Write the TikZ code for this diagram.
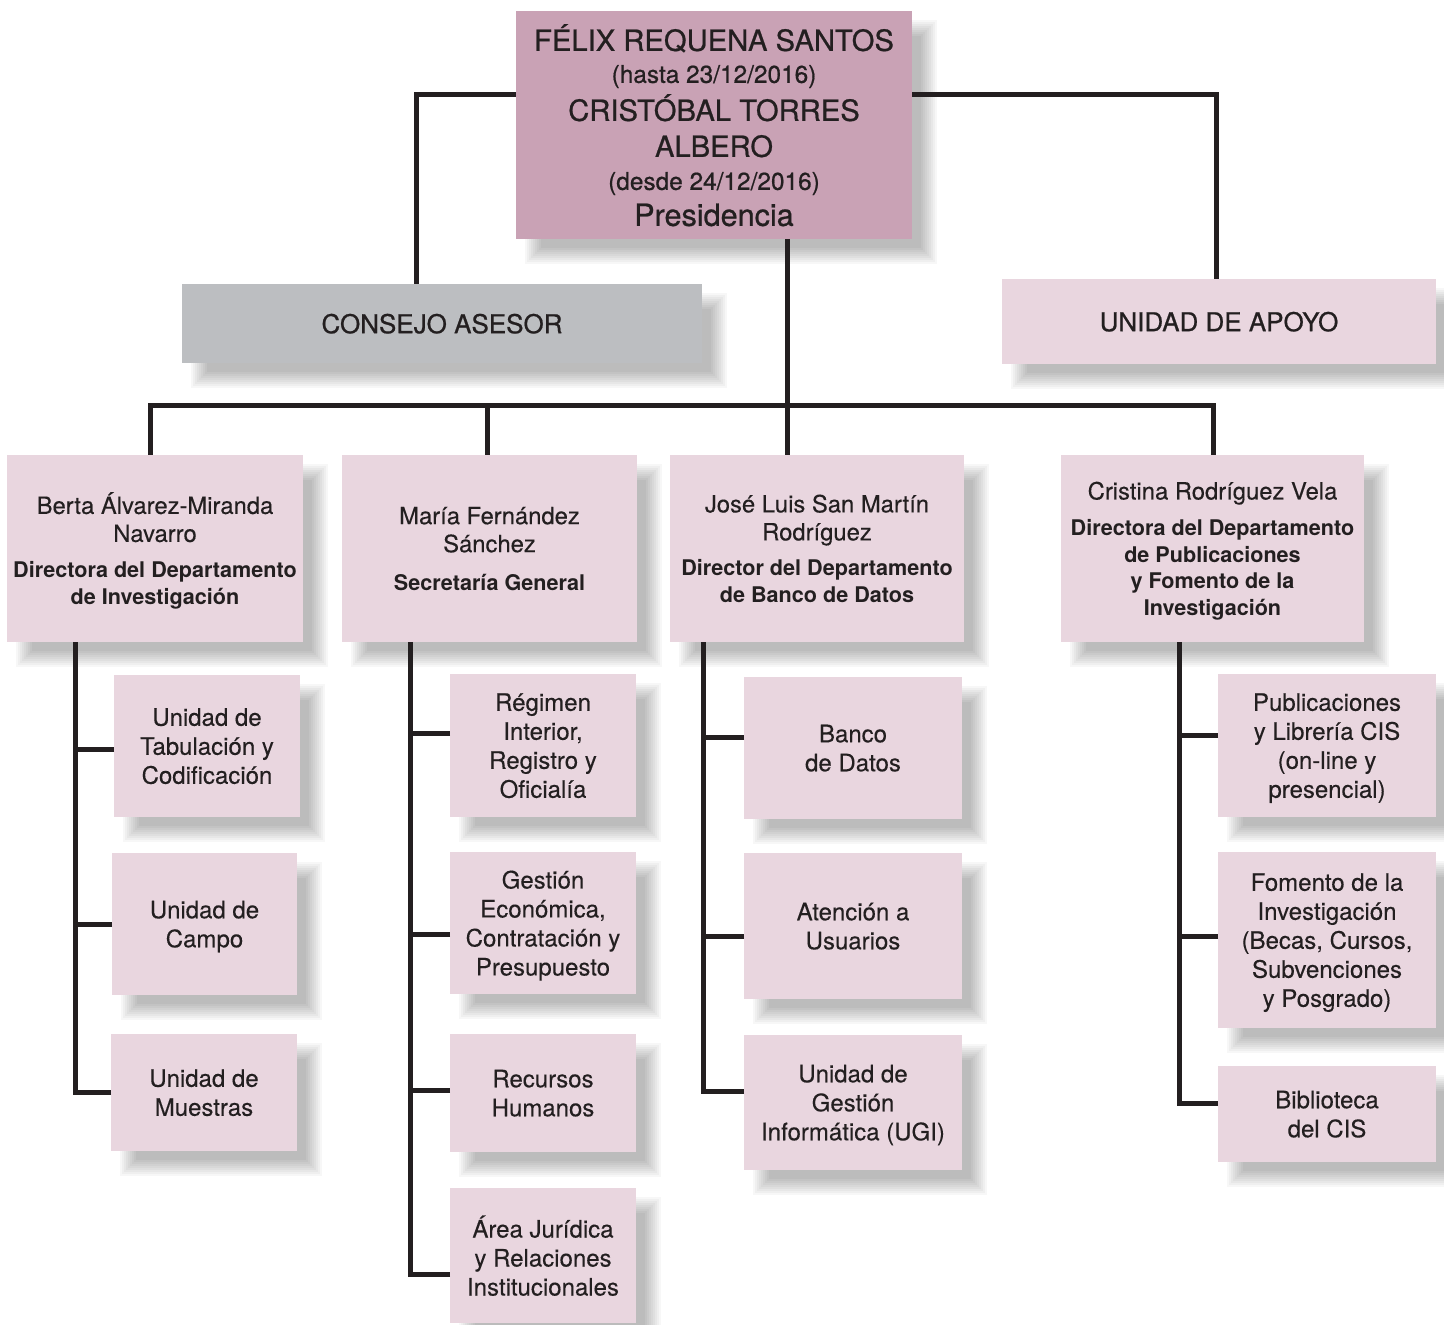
\documentclass[tikz,border=0pt]{standalone}
\usepackage{fontspec}
\setmainfont{TeX Gyre Heros}[UprightFeatures={FakeBold=0.25}]
\newfontfamily\medfont{TeX Gyre Heros}[FakeBold=0.7]
\usetikzlibrary{calc}
\definecolor{topc}{HTML}{C9A2B5}
\definecolor{pinkc}{HTML}{E9D6DF}
\definecolor{grayc}{HTML}{BCBEC1}
\definecolor{inkc}{HTML}{231F20}
\newcommand{\bt}{\fontsize{10.8}{13.5}\selectfont\bfseries}
% box: name, style, x1, y1, x2, y2 (pixels), text -- with a soft offset shadow
\newcommand{\bx}[7]{%
  \foreach \e in {8,6,...,-8}{%
    \fill[shadowlayer] ({#3+17-\e},{#4+17-\e}) rectangle ({#5+17+\e},{#6+17+\e});}%
  \node[#2, minimum width={(#5-#3)*0.5pt}, minimum height={(#6-#4)*0.5pt}]
  (#1) at ({(#3+#5)/2},{(#4+#6)/2}) {#7};}
\begin{document}
\begin{tikzpicture}[x=0.5pt,y=-0.5pt,
  shadowlayer/.style={fill=black, fill opacity=0.033},
  box/.style={rectangle, inner sep=0pt, outer sep=0pt, draw=none, align=center, text=inkc,
    text depth=0pt},
  topbox/.style={box, fill=topc, font=\medfont\fontsize{14.6}{18}\selectfont},
  headbox/.style={box, fill=pinkc, font=\medfont\fontsize{13}{16}\selectfont},
  graybox/.style={box, fill=grayc, font=\medfont\fontsize{13}{16}\selectfont},
  deptbox/.style={box, fill=pinkc, font=\fontsize{11.9}{14}\selectfont},
  subbox/.style={box, fill=pinkc, font=\fontsize{12}{14.5}\selectfont},
  conn/.style={line width=2.5pt, draw=inkc, line join=miter}]
\useasboundingbox[fill=white] (0,0) rectangle (1444,1325);

% top
\bx{top}{topbox}{516}{11}{912}{239}{FÉLIX REQUENA SANTOS\\[-2pt]
  {\fontsize{12.2}{15}\selectfont (hasta 23/12/2016)}\\[1pt]
  CRISTÓBAL TORRES\\
  ALBERO\\[-1.5pt]
  {\fontsize{12.2}{15}\selectfont (desde 24/12/2016)}\\
  {\fontsize{15.3}{18}\selectfont Presidencia}}
\bx{cons}{graybox}{182}{284}{702}{363}{CONSEJO ASESOR}
\bx{apoyo}{headbox}{1002}{279}{1436}{364}{UNIDAD DE APOYO}

% departments
\bx{d1}{deptbox}{7}{455}{303}{642}{Berta Álvarez-Miranda\\Navarro\\[4pt]
  {\bt Directora del Departamento}\\[-0.5pt]{\bt de Investigación}}
\bx{d2}{deptbox}{342}{455}{637}{642}{María Fernández\\Sánchez\\[5pt]
  {\bt Secretaría General}}
\bx{d3}{deptbox}{670}{455}{964}{642}{José Luis San Martín\\Rodríguez\\[3.5pt]
  {\bt Director del Departamento}\\[-0.5pt]{\bt de Banco de Datos}}
\bx{d4}{deptbox}{1061}{455}{1364}{642}{Cristina Rodríguez Vela\\[4pt]
  {\bt Directora del Departamento}\\[-0.7pt]{\bt de Publicaciones}\\[-0.7pt]{\bt y Fomento de la}\\[-0.7pt]{\bt Investigación}}

% sub units
\bx{s11}{subbox}{114}{675}{300}{817}{Unidad de\\Tabulación y\\Codificación}
\bx{s12}{subbox}{112}{853}{297}{995}{Unidad de\\Campo}
\bx{s13}{subbox}{111}{1034}{297}{1151}{Unidad de\\Muestras}

\bx{s21}{subbox}{450}{674}{636}{817}{Régimen\\Interior,\\Registro y\\Oficialía}
\bx{s22}{subbox}{450}{852}{636}{994}{Gestión\\Económica,\\Contratación y\\Presupuesto}
\bx{s23}{subbox}{450}{1034}{636}{1152}{Recursos\\Humanos}
\bx{s24}{subbox}{450}{1188}{636}{1323}{Área Jurídica\\y Relaciones\\Institucionales}

\bx{s31}{subbox}{744}{677}{962}{819}{Banco\\de Datos}
\bx{s32}{subbox}{744}{853}{962}{999}{Atención a\\Usuarios}
\bx{s33}{subbox}{744}{1035}{962}{1170}{Unidad de\\Gestión\\Informática (UGI)}

\bx{s41}{subbox}{1218}{674}{1436}{817}{Publicaciones\\y Librería CIS\\(on-line y\\presencial)}
\bx{s42}{subbox}{1218}{852}{1436}{1028}{Fomento de la\\Investigación\\(Becas, Cursos,\\Subvenciones\\y Posgrado)}
\bx{s43}{subbox}{1218}{1066}{1436}{1162}{Biblioteca\\del CIS}

% connectors, top level
\draw[conn] ([yshift=15pt]top.west) -| ([xshift=-13pt]cons.north);
\draw[conn] ([yshift=15pt]top.east) -| ([xshift=-1.5pt]apoyo.north);
\coordinate (bus) at (787,406);
\draw[conn] ([xshift=36.5pt]top.south) -- (bus);
\draw[conn] ([xshift=-2.5pt]d1.north) |- (bus) -| ([xshift=0.25pt]d4.north);
\coordinate (d2top) at ([xshift=-1.25pt]d2.north);
\draw[conn] (d2top) -- (d2top |- bus);
\coordinate (d3top) at ([xshift=-15pt]d3.north);
\draw[conn] (bus) -- (d3top);

% trunks
\coordinate (t1) at ([xshift=34pt]d1.south west);
\coordinate (t2) at ([xshift=34pt]d2.south west);
\coordinate (t3) at ([xshift=16.5pt]d3.south west);
\coordinate (t4) at ([xshift=59pt]d4.south west);

\draw[conn] ([yshift=-1.5pt]s11.west) -| (t1);
\draw[conn] (s12.west) -| (t1);
\draw[conn] (s13.west) -| (t1);

\draw[conn] ([yshift=6.25pt]s21.west) -| (t2);
\draw[conn] ([yshift=-5.5pt]s22.west) -| (t2);
\draw[conn] ([yshift=1.5pt]s23.west) -| (t2);
\draw[conn] ([yshift=-9.25pt]s24.west) -| (t2);

\draw[conn] ([yshift=5.5pt]s31.west) -| (t3);
\draw[conn] ([yshift=-5pt]s32.west) -| (t3);
\draw[conn] ([yshift=5.75pt]s33.west) -| (t3);

\draw[conn] ([yshift=5.25pt]s41.west) -| (t4);
\draw[conn] ([yshift=2pt]s42.west) -| (t4);
\draw[conn] ([yshift=5.5pt]s43.west) -| (t4);
\end{tikzpicture}
\end{document}
